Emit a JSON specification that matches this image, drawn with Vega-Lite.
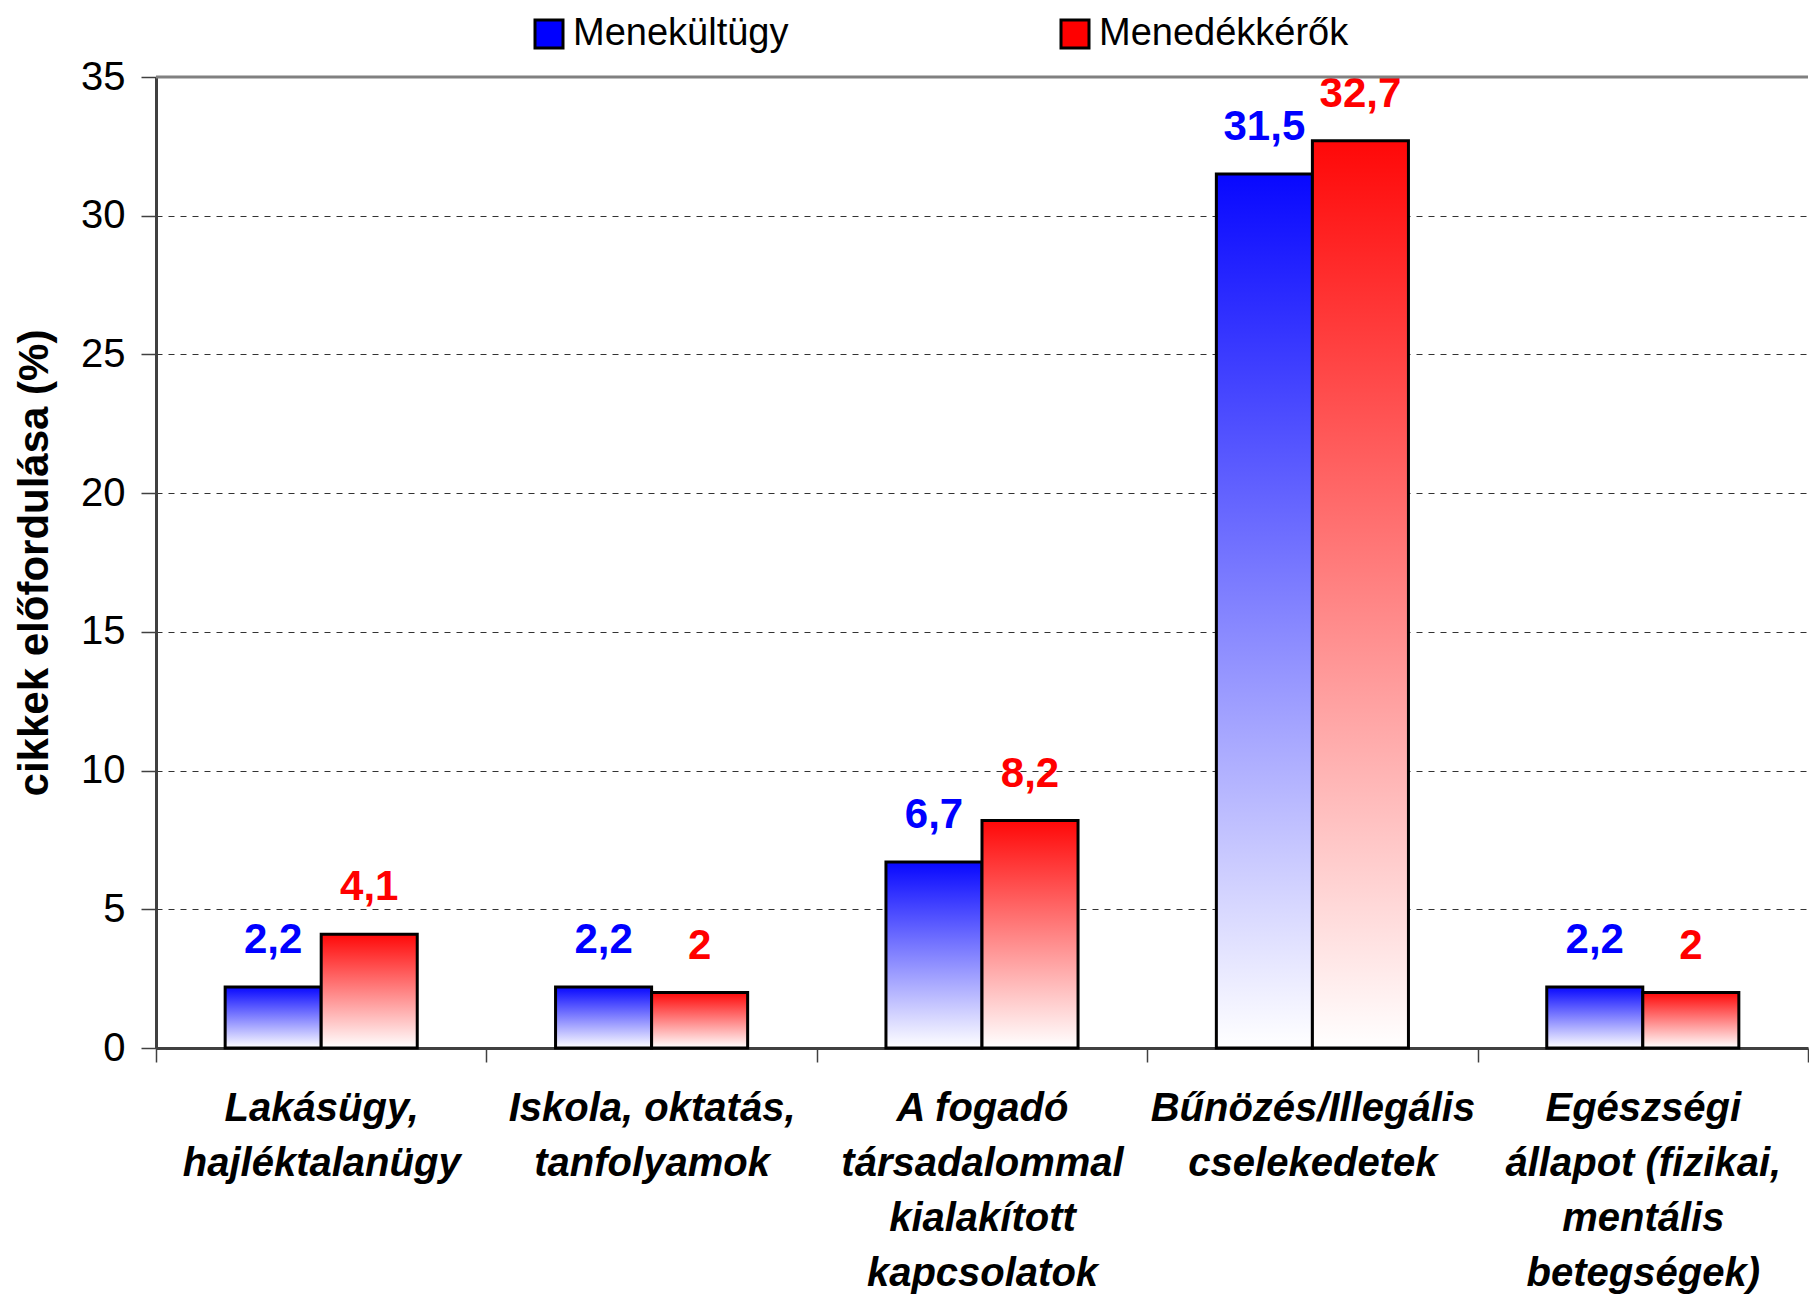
{
  "$schema": "https://vega.github.io/schema/vega-lite/v6.json",
  "width": 1652,
  "height": 971,
  "autosize": {"type": "none"},
  "padding": {"left": 156, "top": 77, "right": 1, "bottom": 250},
  "background": "white",
  "config": {
    "view": {"stroke": null},
    "locale": {"number": {"decimal": ",", "thousands": " ", "grouping": [3], "currency": ["", ""]}}
  },
  "datasets": {
    "main": [
      {"cat": "Lakásügy,|hajléktalanügy", "series": "Menekültügy", "value": 2.2},
      {"cat": "Lakásügy,|hajléktalanügy", "series": "Menedékkérők", "value": 4.1},
      {"cat": "Iskola, oktatás,|tanfolyamok", "series": "Menekültügy", "value": 2.2},
      {"cat": "Iskola, oktatás,|tanfolyamok", "series": "Menedékkérők", "value": 2},
      {"cat": "A fogadó|társadalommal|kialakított|kapcsolatok", "series": "Menekültügy", "value": 6.7},
      {"cat": "A fogadó|társadalommal|kialakított|kapcsolatok", "series": "Menedékkérők", "value": 8.2},
      {"cat": "Bűnözés/Illegális|cselekedetek", "series": "Menekültügy", "value": 31.5},
      {"cat": "Bűnözés/Illegális|cselekedetek", "series": "Menedékkérők", "value": 32.7},
      {"cat": "Egészségi|állapot (fizikai,|mentális|betegségek)", "series": "Menekültügy", "value": 2.2},
      {"cat": "Egészségi|állapot (fizikai,|mentális|betegségek)", "series": "Menedékkérők", "value": 2}
    ],
    "border": [{"top": 35}]
  },
  "layer": [
    {
      "data": {"name": "main"},
      "transform": [{"filter": "datum.series === 'Menekültügy'"}],
      "mark": {
        "type": "bar",
        "stroke": "black",
        "strokeWidth": 3,
        "fill": {"gradient": "linear", "x1": 0, "y1": 0, "x2": 0, "y2": 1,
          "stops": [{"offset": 0, "color": "#0808ff"}, {"offset": 1, "color": "#ffffff"}]}
      },
      "encoding": {
        "x": {"field": "cat", "type": "nominal", "sort": null,
          "scale": {"paddingInner": 0, "paddingOuter": 0},
          "axis": {
            "title": null, "labelAngle": 0, "labelFont": "Liberation Sans", "labelFontStyle": "italic",
            "labelFontWeight": "bold", "labelFontSize": 40, "labelLineHeight": 55, "labelColor": "black",
            "labelExpr": "split(datum.label, '|')", "labelLimit": 600, "labelPadding": 26,
            "tickBand": "extent", "tickSize": 14, "tickColor": "#404040", "tickWidth": 1.5,
            "domainColor": "#404040", "domainWidth": 3
          }},
        "xOffset": {"field": "series", "type": "nominal",
          "scale": {"domain": ["Menekültügy", "Menedékkérők"], "paddingInner": 0, "paddingOuter": 0.72}},
        "y": {"field": "value", "type": "quantitative",
          "scale": {"domain": [0, 35]},
          "axis": {
            "title": "cikkek előfordulása (%)", "titleFont": "Liberation Sans", "titleFontSize": 42,
            "titleFontWeight": "bold", "titleColor": "black", "titlePadding": 24,
            "values": [0, 5, 10, 15, 20, 25, 30, 35],
            "labelFont": "Liberation Sans", "labelFontSize": 40, "labelColor": "black", "labelPadding": 16,
            "grid": true, "gridDash": [6, 6], "gridColor": "#333333", "gridWidth": 1,
            "tickSize": 15, "tickColor": "#404040", "tickWidth": 1.5,
            "domainColor": "#404040", "domainWidth": 3
          }}
      }
    },
    {
      "data": {"name": "main"},
      "transform": [{"filter": "datum.series === 'Menedékkérők'"}],
      "mark": {
        "type": "bar",
        "stroke": "black",
        "strokeWidth": 3,
        "fill": {"gradient": "linear", "x1": 0, "y1": 0, "x2": 0, "y2": 1,
          "stops": [{"offset": 0, "color": "#ff0808"}, {"offset": 1, "color": "#ffffff"}]}
      },
      "encoding": {
        "x": {"field": "cat", "type": "nominal", "sort": null},
        "xOffset": {"field": "series", "type": "nominal"},
        "y": {"field": "value", "type": "quantitative"}
      }
    },
    {
      "data": {"name": "main"},
      "mark": {"type": "text", "baseline": "alphabetic", "dy": -34, "fontSize": 42, "fontWeight": "bold", "font": "Liberation Sans"},
      "encoding": {
        "x": {"field": "cat", "type": "nominal", "sort": null},
        "xOffset": {"field": "series", "type": "nominal"},
        "y": {"field": "value", "type": "quantitative"},
        "text": {"field": "value", "type": "quantitative", "format": ".1~f"},
        "color": {"field": "series", "type": "nominal",
          "scale": {"domain": ["Menekültügy", "Menedékkérők"], "range": ["#0000ff", "#ff0000"]},
          "legend": {
            "title": null, "orient": "none", "legendX": 374, "legendY": -62, "direction": "horizontal",
            "symbolType": "square", "symbolSize": 784, "symbolStrokeColor": "black", "symbolStrokeWidth": 3,
            "symbolOpacity": 1, "labelFont": "Liberation Sans", "labelFontSize": 38, "labelColor": "black",
            "labelOffset": 5, "columnPadding": 266, "labelLimit": 400
          }}
      }
    },
    {
      "data": {"name": "border"},
      "mark": {"type": "rule", "color": "#808080", "strokeWidth": 3},
      "encoding": {"y": {"field": "top", "type": "quantitative"}}
    }
  ]
}
